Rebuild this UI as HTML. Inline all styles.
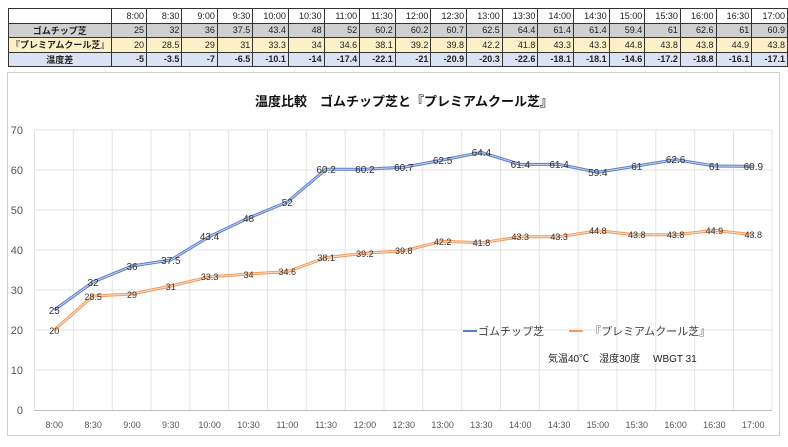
<!DOCTYPE html>
<html><head><meta charset="utf-8"><style>
body{margin:0;width:788px;height:447px;background:#fff;overflow:hidden;font-family:"Liberation Sans","Noto Sans CJK JP",sans-serif;}
table{position:absolute;left:8px;top:8px;border-collapse:collapse;font-size:9px;}
td{border:1px solid #333;height:13.5px;padding:0 2px;text-align:right;width:31px;color:#222;}
td.h{width:101px;text-align:center;font-weight:bold;}
tr.r1 td{background:#d0d0d0}
tr.r2 td{background:#fdf0c8}
tr.r3 td{background:#dae3f3;font-weight:bold}
svg{position:absolute;left:0;top:0}
</style></head><body>
<table>
<tr><td class="h"></td><td>8:00</td><td>8:30</td><td>9:00</td><td>9:30</td><td>10:00</td><td>10:30</td><td>11:00</td><td>11:30</td><td>12:00</td><td>12:30</td><td>13:00</td><td>13:30</td><td>14:00</td><td>14:30</td><td>15:00</td><td>15:30</td><td>16:00</td><td>16:30</td><td>17:00</td></tr>
<tr class="r1"><td class="h">ゴムチップ芝</td><td>25</td><td>32</td><td>36</td><td>37.5</td><td>43.4</td><td>48</td><td>52</td><td>60.2</td><td>60.2</td><td>60.7</td><td>62.5</td><td>64.4</td><td>61.4</td><td>61.4</td><td>59.4</td><td>61</td><td>62.6</td><td>61</td><td>60.9</td></tr>
<tr class="r2"><td class="h">『プレミアムクール芝』</td><td>20</td><td>28.5</td><td>29</td><td>31</td><td>33.3</td><td>34</td><td>34.6</td><td>38.1</td><td>39.2</td><td>39.8</td><td>42.2</td><td>41.8</td><td>43.3</td><td>43.3</td><td>44.8</td><td>43.8</td><td>43.8</td><td>44.9</td><td>43.8</td></tr>
<tr class="r3"><td class="h">温度差</td><td>-5</td><td>-3.5</td><td>-7</td><td>-6.5</td><td>-10.1</td><td>-14</td><td>-17.4</td><td>-22.1</td><td>-21</td><td>-20.9</td><td>-20.3</td><td>-22.6</td><td>-18.1</td><td>-18.1</td><td>-14.6</td><td>-17.2</td><td>-18.8</td><td>-16.1</td><td>-17.1</td></tr>
</table>
<svg width="788" height="447" font-family="Liberation Sans, Noto Sans CJK JP, sans-serif">
<rect x="7.5" y="72.5" width="772" height="363" fill="none" stroke="#d0d0d0"/>
<text x="404" y="106" text-anchor="middle" font-size="13" font-weight="bold" fill="#111">温度比較　ゴムチップ芝と『プレミアムクール芝』</text>
<g stroke="#e4e4e4" stroke-width="1">
<line x1="34" y1="130" x2="772" y2="130"/><line x1="34" y1="170" x2="772" y2="170"/><line x1="34" y1="210" x2="772" y2="210"/><line x1="34" y1="250" x2="772" y2="250"/><line x1="34" y1="290" x2="772" y2="290"/><line x1="34" y1="330" x2="772" y2="330"/><line x1="34" y1="370" x2="772" y2="370"/>
<path d="M34.5 130V410M73.3 130V410M112.2 130V410M151 130V410M189.8 130V410M228.7 130V410M267.5 130V410M306.3 130V410M345.2 130V410M384 130V410M422.8 130V410M461.7 130V410M500.5 130V410M539.3 130V410M578.2 130V410M617 130V410M655.8 130V410M694.7 130V410M733.5 130V410M772 130V410"/>
</g>
<line x1="34" y1="410.5" x2="772" y2="410.5" stroke="#bfbfbf"/>
<g font-size="11" fill="#555" text-anchor="end">
<text x="23" y="134">70</text><text x="23" y="174">60</text><text x="23" y="214">50</text><text x="23" y="254">40</text><text x="23" y="294">30</text><text x="23" y="334">20</text><text x="23" y="374">10</text><text x="23" y="414">0</text>
</g>
<g font-size="9" fill="#555" text-anchor="middle">
<text x="54.3" y="428">8:00</text><text x="93.1" y="428">8:30</text><text x="132" y="428">9:00</text><text x="170.8" y="428">9:30</text><text x="209.6" y="428">10:00</text><text x="248.5" y="428">10:30</text><text x="287.3" y="428">11:00</text><text x="326.1" y="428">11:30</text><text x="364.9" y="428">12:00</text><text x="403.8" y="428">12:30</text><text x="442.6" y="428">13:00</text><text x="481.4" y="428">13:30</text><text x="520.3" y="428">14:00</text><text x="559.1" y="428">14:30</text><text x="597.9" y="428">15:00</text><text x="636.8" y="428">15:30</text><text x="675.6" y="428">16:00</text><text x="714.4" y="428">16:30</text><text x="753.3" y="428">17:00</text>
</g>
<polyline fill="none" stroke="#5b7fc7" stroke-width="3" points="54.3,310 93.1,282 132,266 170.8,260 209.6,236.4 248.5,218 287.3,202 326.1,169.2 364.9,169.2 403.8,167.2 442.6,160 481.4,152.4 520.3,164.4 559.1,164.4 597.9,172.4 636.8,166 675.6,159.6 714.4,166 753.3,166.4"/>
<polyline fill="none" stroke="#c5d3ee" stroke-width="1" points="54.3,310 93.1,282 132,266 170.8,260 209.6,236.4 248.5,218 287.3,202 326.1,169.2 364.9,169.2 403.8,167.2 442.6,160 481.4,152.4 520.3,164.4 559.1,164.4 597.9,172.4 636.8,166 675.6,159.6 714.4,166 753.3,166.4"/>
<polyline fill="none" stroke="#f09a5e" stroke-width="3" points="54.3,330 93.1,296 132,294 170.8,286 209.6,276.8 248.5,274 287.3,271.6 326.1,257.6 364.9,253.2 403.8,250.8 442.6,241.2 481.4,242.8 520.3,236.8 559.1,236.8 597.9,230.8 636.8,234.8 675.6,234.8 714.4,230.4 753.3,234.8"/>
<polyline fill="none" stroke="#fbdcc6" stroke-width="1" points="54.3,330 93.1,296 132,294 170.8,286 209.6,276.8 248.5,274 287.3,271.6 326.1,257.6 364.9,253.2 403.8,250.8 442.6,241.2 481.4,242.8 520.3,236.8 559.1,236.8 597.9,230.8 636.8,234.8 675.6,234.8 714.4,230.4 753.3,234.8"/>
<g font-size="10" fill="#333" text-anchor="middle">
<text x="54.3" y="314">25</text><text x="93.1" y="286">32</text><text x="132" y="270">36</text><text x="170.8" y="264">37.5</text><text x="209.6" y="240">43.4</text><text x="248.5" y="222">48</text><text x="287.3" y="206">52</text><text x="326.1" y="173">60.2</text><text x="364.9" y="173">60.2</text><text x="403.8" y="171">60.7</text><text x="442.6" y="164">62.5</text><text x="481.4" y="156">64.4</text><text x="520.3" y="168">61.4</text><text x="559.1" y="168">61.4</text><text x="597.9" y="176">59.4</text><text x="636.8" y="170">61</text><text x="675.6" y="163">62.6</text><text x="714.4" y="170">61</text><text x="753.3" y="170">60.9</text>
</g>
<g font-size="9" fill="#333" text-anchor="middle">
<text x="54.3" y="334">20</text><text x="93.1" y="300">28.5</text><text x="132" y="298">29</text><text x="170.8" y="290">31</text><text x="209.6" y="280">33.3</text><text x="248.5" y="278">34</text><text x="287.3" y="275">34.6</text><text x="326.1" y="261">38.1</text><text x="364.9" y="257">39.2</text><text x="403.8" y="254">39.8</text><text x="442.6" y="245">42.2</text><text x="481.4" y="246">41.8</text><text x="520.3" y="240">43.3</text><text x="559.1" y="240">43.3</text><text x="597.9" y="234">44.8</text><text x="636.8" y="238">43.8</text><text x="675.6" y="238">43.8</text><text x="714.4" y="234">44.9</text><text x="753.3" y="238">43.8</text>
</g>
<line x1="463" y1="331" x2="477" y2="331" stroke="#5b7fc7" stroke-width="2"/>
<text x="478" y="335" font-size="11" fill="#444">ゴムチップ芝</text>
<line x1="569" y1="331" x2="583" y2="331" stroke="#f09a5e" stroke-width="2"/>
<text x="590" y="335" font-size="11" fill="#444">『プレミアムクール芝』</text>
<text x="548" y="362" font-size="10" fill="#222">気温40℃　湿度30度　 WBGT 31</text>
</svg>
</body></html>
